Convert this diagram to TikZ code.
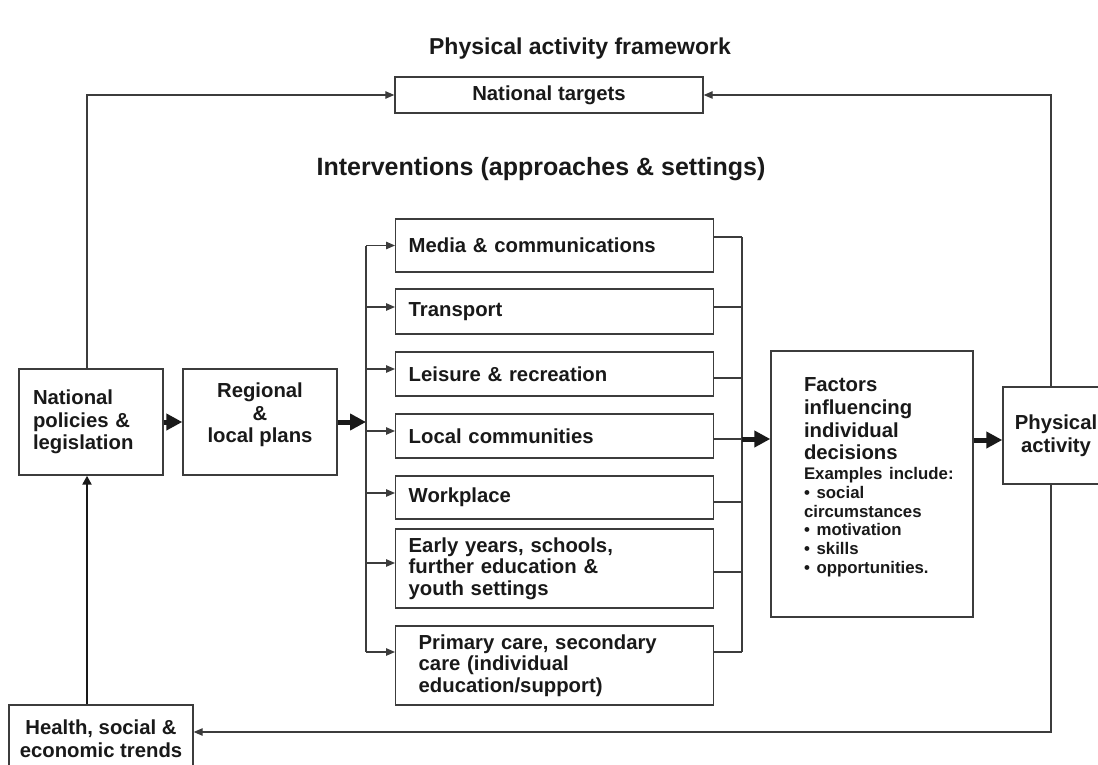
\documentclass[tikz,border=0pt]{standalone}
\usepackage{fontspec}
\setmainfont{Liberation Sans}
\usetikzlibrary{arrows.meta,positioning}

\definecolor{linegray}{RGB}{60,60,60}
\definecolor{inkblack}{RGB}{25,25,25}
\newcommand\exfont{\fontsize{16.8}{18.8}\selectfont}

\tikzset{
  box/.style={draw=linegray, line width=1.4pt, fill=white, text=inkblack,
    font=\bfseries\fontsize{20.3}{22.5}\selectfont, inner sep=0pt},
  setting/.style={box, anchor=west, align=left, inner xsep=13pt, text width=292pt,
    minimum height=#1, font=\bfseries\fontsize{20.3}{21.5}\selectfont},
  link/.style={draw=linegray, line width=1.2pt},
  arr/.style={link, -{Triangle[length=9pt,width=7.5pt]}},
  uparr/.style={draw=inkblack, line width=2.6pt, -{Triangle[length=9pt,width=9pt]}},
  bigarr/.style={draw=inkblack, line width=5pt, -{Triangle[length=16pt,width=16pt]}},
  heading/.style={text=inkblack, font=\bfseries\fontsize{23}{26}\selectfont},
}

\begin{document}
\begin{tikzpicture}[x=1pt,y=-1pt]
  \useasboundingbox (0,0) rectangle (1098,765);
  \clip (0,0) rectangle (1098,765);

  % headings
  \node[heading] (title) at (580,49) {Physical activity framework};
  \node[heading, font=\bfseries\fontsize{25}{28}\selectfont] (interv) at (541,169)
    {Interventions (approaches \& settings)};

  % main boxes
  \node[box, minimum width=308pt, minimum height=36pt] (targets) at (549,95) {National targets};
  \node[box, align=left, text width=116pt, inner xsep=14pt, minimum height=106pt] (policies)
    at (91,422) {National\\policies \&\\legislation};
  \node[box, align=center, minimum width=154pt, minimum height=106pt] (regional)
    at (260,422) {Regional\\\&\\local plans\\[-4pt]\mbox{}};
  \node[box, align=center, minimum width=184pt, minimum height=67pt] (trends)
    at (101,738.5) {Health, social \&\\economic trends};
  \node[box, align=left, text width=136pt, inner xsep=33pt, minimum height=266pt,
    font=\bfseries\fontsize{20.3}{22.7}\selectfont] (factors) at (872,484)
    {Factors\\influencing\\individual\\decisions\\[1pt]
     \exfont\mbox{Examples include:}\\• social\\circumstances\\
     • motivation\\• skills\\• opportunities.\\[-6pt]\mbox{}};
  \node[box, align=center, minimum width=106pt, minimum height=97pt] (activity)
    at (1056,435.5) {Physical\\activity};

  % settings
  \node[setting=53pt] (media) at (395,245.5) {Media \& communications};
  \node[setting=45pt] (transport) at (395,311.5) {Transport};
  \node[setting=44pt] (leisure) at (395,374) {Leisure \& recreation};
  \node[setting=44pt] (local) at (395,436) {Local communities};
  \node[setting=43pt] (workplace) at (395,497.5) {Workplace};
  \node[setting=79pt] (early) at (395,568.5)
    {Early years, schools,\\further education \&\\youth settings};
  \node[setting=79pt, inner xsep=23pt, text width=272pt] (primary) at (395,665.5)
    {Primary care, secondary\\care (individual\\education/support)};

  \coordinate (lbus) at (366,422);
  \coordinate (rbus) at (742,439);

  % feedback loops
  \draw[arr] ([xshift=-4pt]policies.north) |- (targets.west);
  \draw[arr] ([xshift=-5pt]activity.north) |- (targets.east);
  \draw[arr] ([xshift=-5pt]activity.south) |- ([yshift=6.5pt]trends.east);
  \draw[uparr] ([xshift=-14pt]trends.north) -- ([xshift=-4pt]policies.south);

  % main flow
  \draw[bigarr] (policies) -- (regional);
  \draw[bigarr] (regional.east) -- (lbus);
  \draw[link] (media.west -| lbus) -- ([yshift=13.5pt]primary.west -| lbus);
  \draw[link] ([yshift=8.5pt]media.east -| rbus) -- ([yshift=13.5pt]primary.east -| rbus);
  \foreach \s/\dl/\dr in {media/0/8.5, transport/4.5/4.5, leisure/5/-4, local/5/-3,
      workplace/4.5/-4.5, early/5.5/-3.5, primary/13.5/13.5}
  {
    \draw[arr] ([yshift=\dl pt]\s.west -| lbus) -- ([yshift=\dl pt]\s.west);
    \draw[link] ([yshift=\dr pt]\s.east) -- ([yshift=\dr pt]\s.east -| rbus);
  }
  \draw[bigarr] (rbus) -- (rbus -| factors.west);
  \draw[bigarr] ([yshift=-4.5pt]factors.east |- activity.west) -- ([yshift=-4.5pt]activity.west);
\end{tikzpicture}
\end{document}
